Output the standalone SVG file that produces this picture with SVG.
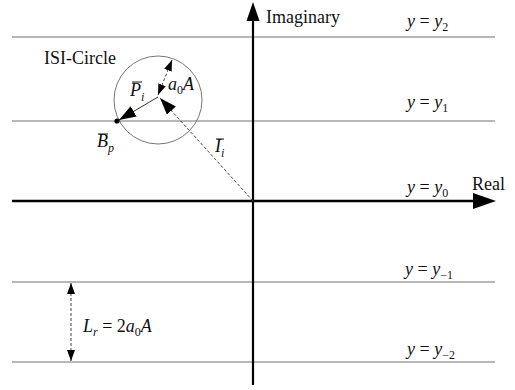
<svg xmlns="http://www.w3.org/2000/svg" width="515" height="390" viewBox="0 0 515 390">
<style>
text{font-family:"Liberation Serif","DejaVu Serif","Times New Roman",serif;fill:#111}
.t{font-size:18px}
.m{font-size:18px;font-style:italic}
.s{font-size:12px;font-style:normal}
.si{font-size:12px;font-style:italic}
.grid{stroke:#a0a0a0;stroke-width:1.3}
.dash{stroke:#444;stroke-width:1;stroke-dasharray:3,2;fill:none}
.bar{stroke:#111;stroke-width:1}
</style>
<defs>
<marker id="big" viewBox="0 0 17 12" refX="17" refY="6" markerWidth="17" markerHeight="12" markerUnits="userSpaceOnUse" orient="auto-start-reverse"><path d="M0,0 L17,6 L0,12 z" fill="#000"/></marker>
<marker id="sm" viewBox="0 0 11 8" refX="11" refY="4" markerWidth="11" markerHeight="8" markerUnits="userSpaceOnUse" orient="auto-start-reverse"><path d="M0,0 L11,4 L0,8 z" fill="#000"/></marker>
</defs>
<rect width="515" height="390" fill="#fff"/>
<g id="grid-lines">
<line class="grid" x1="12" y1="37" x2="495" y2="37"/>
<line class="grid" x1="12" y1="121" x2="495" y2="121"/>
<line class="grid" x1="12" y1="282" x2="495" y2="282" stroke="#909090"/>
<line class="grid" x1="12" y1="362" x2="495" y2="362" stroke="#909090"/>
</g>
<g id="axes">
<line x1="253" y1="18" x2="253" y2="385" stroke="#000" stroke-width="2.2"/>
<polygon points="253,2 246.5,21 259.5,21" fill="#000"/>
<line x1="12" y1="201" x2="476" y2="201" stroke="#000" stroke-width="2.6"/>
<polygon points="496,201 473,193 473,209" fill="#000"/>
</g>
<g id="isi-circle">
<circle cx="158" cy="100" r="44" fill="none" stroke="#777" stroke-width="1"/>
<circle cx="117" cy="121" r="2.6" fill="#000"/>
</g>
<g id="connectors">
<line x1="158" y1="97" x2="119" y2="120" stroke="#333" stroke-width="1" marker-end="url(#big)"/>
<line class="dash" x1="253" y1="201" x2="160" y2="98" marker-end="url(#big)"/>
<line class="dash" x1="158" y1="95" x2="172" y2="60" marker-start="url(#sm)" marker-end="url(#sm)"/>
<line class="dash" x1="71" y1="283" x2="71" y2="361" marker-start="url(#sm)" marker-end="url(#sm)"/>
</g>
<g id="labels">
<text class="t" x="266" y="23">Imaginary</text>
<text class="t" x="472" y="190">Real</text>
<text class="t" x="44" y="64">ISI-Circle</text>
<text class="m" x="407" y="27">y<tspan font-style="normal"> = </tspan>y<tspan class="s" dy="4">2</tspan></text>
<text class="m" x="407" y="108">y<tspan font-style="normal"> = </tspan>y<tspan class="s" dy="4">1</tspan></text>
<text class="m" x="407" y="193">y<tspan font-style="normal"> = </tspan>y<tspan class="s" dy="4">0</tspan></text>
<text class="m" x="405" y="275">y<tspan font-style="normal"> = </tspan>y<tspan class="s" dy="4">−1</tspan></text>
<text class="m" x="407" y="355">y<tspan font-style="normal"> = </tspan>y<tspan class="s" dy="4">−2</tspan></text>
<text class="m" x="130" y="96">P<tspan class="si" dy="5">i</tspan></text>
<line class="bar" x1="132" y1="82" x2="142" y2="82"/>
<text class="m" x="168" y="90">a<tspan class="s" dy="4">0</tspan><tspan dy="-4">A</tspan></text>
<text class="m" x="97" y="147">B<tspan class="si" dy="5">p</tspan></text>
<line class="bar" x1="98" y1="134" x2="108" y2="134"/>
<text class="m" x="215" y="152">I<tspan class="si" dy="5">i</tspan></text>
<line class="bar" x1="216" y1="139" x2="224" y2="139"/>
<text class="m" x="83" y="332">L<tspan class="si" dy="4">r</tspan><tspan font-style="normal" dy="-4"> = 2</tspan>a<tspan class="s" dy="4">0</tspan><tspan dy="-4">A</tspan></text>
</g>
</svg>
